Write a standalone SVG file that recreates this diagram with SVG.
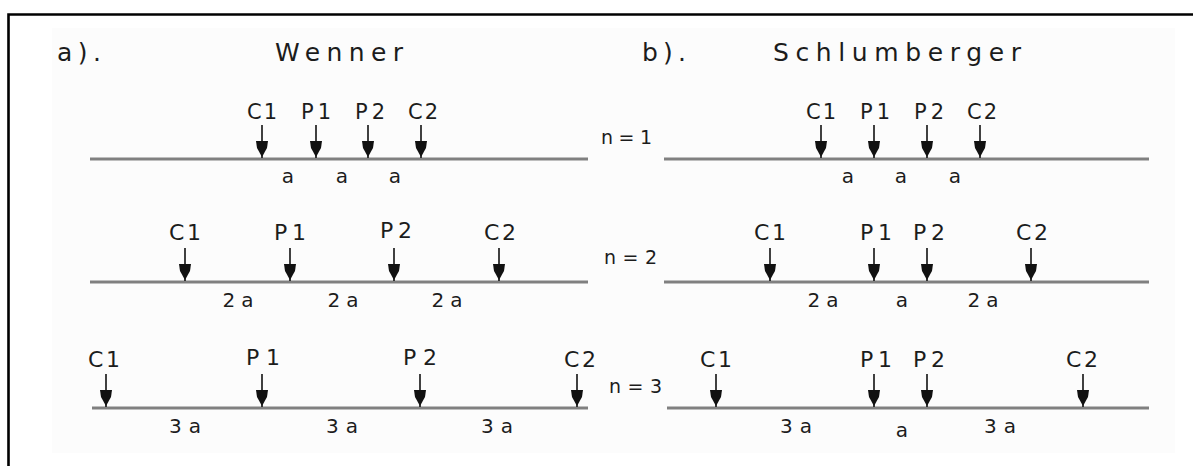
<svg xmlns="http://www.w3.org/2000/svg" xmlns:xlink="http://www.w3.org/1999/xlink" width="1193" height="466" viewBox="0 0 1193 466">
<style>
text{font-family:"DejaVu Sans","Liberation Sans",Arial,sans-serif;fill:#1c1c1c;}
.title{font-size:25px;}
.el{font-size:21px;text-anchor:middle;}
.el3{font-size:22px;text-anchor:middle;}
.d{font-size:20px;text-anchor:middle;}
.n{font-size:19px;}
.ground{stroke:#808080;stroke-width:3;fill:none;}
</style>
<defs>
<g id="ar">
<line x1="0" y1="-34" x2="0" y2="-1" stroke="#111" stroke-width="1.6"/>
<path d="M-6,-18 L6,-18 L5,-11 L0,-2 L-5,-11 Z" fill="#111"/>
</g>
</defs>
<rect x="0" y="0" width="1193" height="466" fill="#ffffff"/>
<rect x="52" y="28" width="1123" height="425" fill="#fcfcfc"/>
<path d="M8.5,466 V14.5 H1193" fill="none" stroke="#000" stroke-width="2.6"/>

<g id="titles">
<text class="title" x="57" y="61" textLength="44" lengthAdjust="spacing">a).</text>
<text class="title" x="275" y="61" textLength="128" lengthAdjust="spacing">Wenner</text>
<text class="title" x="642" y="61" textLength="44" lengthAdjust="spacing">b).</text>
<text class="title" x="773" y="61" textLength="248" lengthAdjust="spacing">Schlumberger</text>
</g>

<g id="n-labels">
<text class="n" x="601" y="144" textLength="51" lengthAdjust="spacing">n = 1</text>
<text class="n" x="604" y="264" textLength="53" lengthAdjust="spacing">n = 2</text>
<text class="n" x="609" y="393" textLength="53" lengthAdjust="spacing">n = 3</text>
</g>

<g id="connectors">
<line class="ground" x1="90" y1="159" x2="588" y2="159"/>
<line class="ground" x1="664" y1="159" x2="1149" y2="159"/>
<line class="ground" x1="90" y1="282" x2="588" y2="282"/>
<line class="ground" x1="664" y1="282" x2="1149" y2="282"/>
<line class="ground" x1="92" y1="408" x2="588" y2="408"/>
<line class="ground" x1="667" y1="408" x2="1149" y2="408"/>
</g>

<g id="wenner-n1">
<use xlink:href="#ar" href="#ar" x="262" y="159"/>
<use xlink:href="#ar" href="#ar" x="316" y="159"/>
<use xlink:href="#ar" href="#ar" x="368" y="159"/>
<use xlink:href="#ar" href="#ar" x="421" y="159"/>
<text class="el" x="262" y="119" textLength="30" lengthAdjust="spacing">C1</text>
<text class="el" x="316" y="119" textLength="30" lengthAdjust="spacing">P1</text>
<text class="el" x="370" y="119" textLength="30" lengthAdjust="spacing">P2</text>
<text class="el" x="423" y="119" textLength="30" lengthAdjust="spacing">C2</text>
<text class="d" x="288" y="183">a</text>
<text class="d" x="342" y="183">a</text>
<text class="d" x="395" y="183">a</text>
</g>

<g id="schlumberger-n1">
<use xlink:href="#ar" href="#ar" x="821" y="159"/>
<use xlink:href="#ar" href="#ar" x="874" y="159"/>
<use xlink:href="#ar" href="#ar" x="927" y="159"/>
<use xlink:href="#ar" href="#ar" x="980" y="159"/>
<text class="el" x="821" y="119" textLength="30" lengthAdjust="spacing">C1</text>
<text class="el" x="875" y="119" textLength="30" lengthAdjust="spacing">P1</text>
<text class="el" x="929" y="119" textLength="30" lengthAdjust="spacing">P2</text>
<text class="el" x="982" y="119" textLength="30" lengthAdjust="spacing">C2</text>
<text class="d" x="848" y="183">a</text>
<text class="d" x="901" y="183">a</text>
<text class="d" x="955" y="183">a</text>
</g>

<g id="wenner-n2">
<use xlink:href="#ar" href="#ar" x="185" y="282"/>
<use xlink:href="#ar" href="#ar" x="290" y="282"/>
<use xlink:href="#ar" href="#ar" x="394" y="282"/>
<use xlink:href="#ar" href="#ar" x="499" y="282"/>
<text class="el3" x="185" y="240" textLength="32" lengthAdjust="spacing">C1</text>
<text class="el3" x="290" y="240" textLength="32" lengthAdjust="spacing">P1</text>
<text class="el3" x="396" y="238" textLength="32" lengthAdjust="spacing">P2</text>
<text class="el3" x="500" y="240" textLength="32" lengthAdjust="spacing">C2</text>
<text class="d" x="238" y="307" textLength="31" lengthAdjust="spacing">2a</text>
<text class="d" x="343" y="307" textLength="31" lengthAdjust="spacing">2a</text>
<text class="d" x="447" y="307" textLength="31" lengthAdjust="spacing">2a</text>
</g>

<g id="schlumberger-n2">
<use xlink:href="#ar" href="#ar" x="770" y="282"/>
<use xlink:href="#ar" href="#ar" x="874" y="282"/>
<use xlink:href="#ar" href="#ar" x="927" y="282"/>
<use xlink:href="#ar" href="#ar" x="1031" y="282"/>
<text class="el3" x="770" y="240" textLength="32" lengthAdjust="spacing">C1</text>
<text class="el3" x="876" y="240" textLength="32" lengthAdjust="spacing">P1</text>
<text class="el3" x="929" y="240" textLength="32" lengthAdjust="spacing">P2</text>
<text class="el3" x="1032" y="240" textLength="32" lengthAdjust="spacing">C2</text>
<text class="d" x="823" y="307" textLength="31" lengthAdjust="spacing">2a</text>
<text class="d" x="902" y="307">a</text>
<text class="d" x="983" y="307" textLength="31" lengthAdjust="spacing">2a</text>
</g>

<g id="wenner-n3">
<use xlink:href="#ar" href="#ar" x="106" y="408"/>
<use xlink:href="#ar" href="#ar" x="262" y="408"/>
<use xlink:href="#ar" href="#ar" x="420" y="408"/>
<use xlink:href="#ar" href="#ar" x="577" y="408"/>
<text class="el3" x="104" y="367" textLength="32" lengthAdjust="spacing">C1</text>
<text class="el3" x="263" y="365" textLength="34" lengthAdjust="spacing">P1</text>
<text class="el3" x="420" y="365" textLength="34" lengthAdjust="spacing">P2</text>
<text class="el3" x="580" y="367" textLength="32" lengthAdjust="spacing">C2</text>
<text class="d" x="185" y="433" textLength="32" lengthAdjust="spacing">3a</text>
<text class="d" x="342" y="433" textLength="32" lengthAdjust="spacing">3a</text>
<text class="d" x="497" y="433" textLength="32" lengthAdjust="spacing">3a</text>
</g>

<g id="schlumberger-n3">
<use xlink:href="#ar" href="#ar" x="716" y="408"/>
<use xlink:href="#ar" href="#ar" x="874" y="408"/>
<use xlink:href="#ar" href="#ar" x="927" y="408"/>
<use xlink:href="#ar" href="#ar" x="1083" y="408"/>
<text class="el3" x="716" y="367" textLength="32" lengthAdjust="spacing">C1</text>
<text class="el3" x="876" y="367" textLength="32" lengthAdjust="spacing">P1</text>
<text class="el3" x="929" y="367" textLength="32" lengthAdjust="spacing">P2</text>
<text class="el3" x="1082" y="367" textLength="32" lengthAdjust="spacing">C2</text>
<text class="d" x="796" y="433" textLength="32" lengthAdjust="spacing">3a</text>
<text class="d" x="902" y="437">a</text>
<text class="d" x="1000" y="433" textLength="32" lengthAdjust="spacing">3a</text>
</g>
</svg>
